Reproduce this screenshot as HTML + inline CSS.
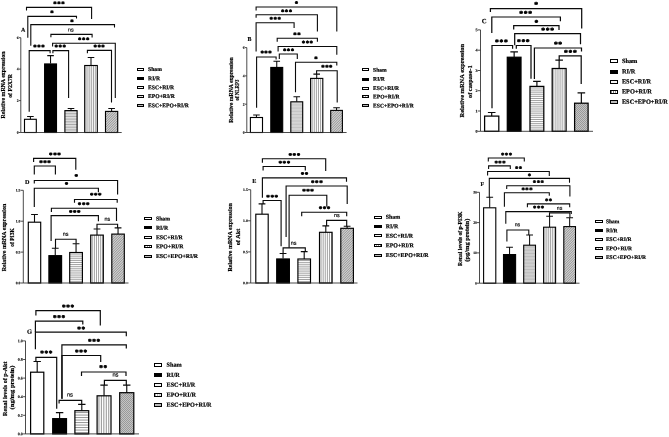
<!DOCTYPE html>
<html lang="en"><head><meta charset="utf-8"><title>Figure</title>
<style>
html,body{margin:0;padding:0;background:#fff;}
body{width:669px;height:437px;overflow:hidden;}
svg{display:block;font-family:"Liberation Serif",serif;font-weight:bold;fill:#000;}
.ax{stroke:#2a2a2a;stroke-width:0.85;fill:none;}
.br{stroke:#0a0a0a;stroke-width:calc(var(--s)*1.1px);fill:none;}
.bar{stroke:#000;stroke-width:calc(var(--s)*1.12px);}
.er{stroke:#0a0a0a;stroke-width:calc(var(--s)*1.05px);fill:none;}
.lb{stroke:#000;stroke-width:1;}
.ph{stroke:#777;stroke-width:0.7;fill:none;}
.pv{stroke:#707070;stroke-width:0.65;fill:none;}
.pd{stroke:#7a7a7a;stroke-width:0.7;fill:none;}
.tk{font-size:calc(var(--s)*3.7px);text-anchor:end;stroke:#000;stroke-width:0.12px;}
.yl{font-size:calc(var(--s)*5.8px);text-anchor:middle;stroke:#000;stroke-width:0.2px;}
.lg{font-size:calc(var(--s)*5.7px);stroke:#000;stroke-width:0.2px;}
.st{font-size:calc(var(--s)*6.8px);text-anchor:middle;letter-spacing:calc(var(--s)*0.55px);stroke:#000;stroke-width:0.45px;}
.ns{font-size:calc(var(--s)*5.3px);text-anchor:middle;font-family:"Liberation Sans",sans-serif;font-weight:normal;fill:#111;stroke:#111;stroke-width:0.2px;}
.pl{font-size:calc(var(--s)*6.0px);text-anchor:middle;stroke:#000;stroke-width:0.15px;}
</style></head>
<body>
<svg width="669" height="437" viewBox="0 0 669 437">
<defs>
<pattern id="ph" width="4" height="2.1" patternUnits="userSpaceOnUse"><rect width="4" height="2.1" fill="#fff"/><rect y="0" width="4" height="0.7" fill="#777"/></pattern>
<pattern id="pv" width="2.1" height="4" patternUnits="userSpaceOnUse"><rect width="2.1" height="4" fill="#fff"/><rect x="0" width="0.65" height="4" fill="#707070"/></pattern>
<pattern id="pd" width="2.5" height="2.5" patternUnits="userSpaceOnUse" patternTransform="rotate(45)"><rect width="2.5" height="2.5" fill="#fff"/><rect x="0" width="0.7" height="2.5" fill="#7a7a7a"/></pattern>
<pattern id="px" width="2" height="2" patternUnits="userSpaceOnUse"><rect width="2" height="2" fill="#c4c4c4"/><rect width="1" height="1" fill="#999"/><rect x="1" y="1" width="1" height="1" fill="#999"/></pattern>
</defs>
<rect width="669" height="437" fill="#fff"/>
<g id="panel-A" style="--s:1">
<path class="er" d="M30.4 119.3V116.4M27.1 116.4H33.7"/><rect class="bar" x="24.5" y="119.3" width="11.8" height="13.2" fill="#fff"/>
<path class="er" d="M50.55 63.6V55.6M47.25 55.6H53.85"/><rect class="bar" x="44.6" y="63.95" width="11.9" height="68.55" fill="#000"/>
<path class="er" d="M71 110.6V108.5M67.7 108.5H74.3"/><rect x="64.9" y="110.6" width="12.2" height="21.9" fill="#fff"/><path class="ph" style="stroke:#707070;stroke-width:0.6" d="M64.9 111.79H77.1M64.9 113.38H77.1M64.9 114.97H77.1M64.9 116.56H77.1M64.9 118.15H77.1M64.9 119.74H77.1M64.9 121.33H77.1M64.9 122.92H77.1M64.9 124.51H77.1M64.9 126.1H77.1M64.9 127.69H77.1M64.9 129.28H77.1M64.9 130.87H77.1"/><rect class="bar" x="64.9" y="110.6" width="12.2" height="21.9" fill="none"/>
<path class="er" d="M91 65.5V57.4M87.7 57.4H94.3"/><rect x="84.7" y="65.5" width="12.6" height="67" fill="#fff"/><path class="pv" style="stroke:#a0a0a0;stroke-width:0.95" d="M86.09 65.5V132.5M87.94 65.5V132.5M89.79 65.5V132.5M91.64 65.5V132.5M93.49 65.5V132.5M95.34 65.5V132.5"/><rect class="bar" x="84.7" y="65.5" width="12.6" height="67" fill="none"/>
<path class="er" d="M111.6 111.4V108.5M108.3 108.5H114.9"/><rect x="105.5" y="111.4" width="12.2" height="21.1" fill="#cfcfcf"/><path class="pd" d="M105.5 112.65L106.75 111.4M105.5 115.15L109.25 111.4M105.5 117.65L111.75 111.4M105.5 120.15L114.25 111.4M105.5 122.65L116.75 111.4M105.5 125.15L117.7 112.95M105.5 127.65L117.7 115.45M105.5 130.15L117.7 117.95M105.65 132.5L117.7 120.45M108.15 132.5L117.7 122.95M110.65 132.5L117.7 125.45M113.15 132.5L117.7 127.95M115.65 132.5L117.7 130.45"/><rect class="bar" x="105.5" y="111.4" width="12.2" height="21.1" fill="none"/>
<path class="ax" d="M20.8 37.7V132.5H121.7"/>
<path class="ax" d="M18.8 132.5H20.8"/><text class="tk" transform="translate(18.55 133.75) rotate(0.04)">0</text>
<path class="ax" d="M18.8 100.6H20.8"/><text class="tk" transform="translate(18.55 101.85) rotate(0.04)">2</text>
<path class="ax" d="M18.8 69.1H20.8"/><text class="tk" transform="translate(18.55 70.35) rotate(0.04)">4</text>
<path class="ax" d="M18.8 37.7H20.8"/><text class="tk" transform="translate(18.55 38.95) rotate(0.04)">6</text>
<path class="br" d="M26.5 10.5V7.4H91.6V18.9"/><text class="st" transform="translate(59.2 6) rotate(0.04)">***</text>
<path class="br" d="M27.8 37.8V16.4H76.5V18.6"/><text class="st" transform="translate(52.2 15) rotate(0.04)">*</text>
<path class="br" d="M30.8 45.8V24.6H114.5V27.5"/><text class="st" transform="translate(72.1 23.9) rotate(0.04)">*</text>
<path class="br" d="M50.9 37.3V34.4H92.1V37.5"/><text class="ns" transform="translate(70.8 31.4) rotate(0.04)">ns</text>
<path class="br" d="M52.6 46.4V43.3H115.3V98"/><text class="st" transform="translate(84 41.9) rotate(0.04)">***</text>
<path class="br" d="M29.2 111.8V50.6H50.1V53.3"/><text class="st" transform="translate(39.2 49.3) rotate(0.04)">***</text>
<path class="br" d="M52.9 53.3V50.6H68.6V98"/><text class="st" transform="translate(60.5 49.3) rotate(0.04)">***</text>
<path class="br" d="M87.4 53.3V50.4H111.5V102.4"/><text class="st" transform="translate(99.4 49.3) rotate(0.04)">***</text>
<text class="pl" transform="translate(23.2 31.8) rotate(0.04)">A</text>
<text class="yl" transform="translate(5.2 85) rotate(-90)" textLength="66.8" lengthAdjust="spacingAndGlyphs">Relative mRNA expression</text>
<text class="yl" transform="translate(12 85.9) rotate(-90)" textLength="23.8" lengthAdjust="spacingAndGlyphs">of P2X7R</text>
<rect class="lb" x="137.5" y="68.5" width="6" height="2" fill="#fff"/><text class="lg" style="font-size:5.63px" transform="translate(148.1 71) rotate(0.04)">Sham</text>
<rect class="lb" x="137.5" y="77.5" width="6" height="2" fill="#000"/><text class="lg" style="font-size:5.63px" transform="translate(148.1 80.2) rotate(0.04)">RI/R</text>
<rect class="lb" x="137.5" y="86.5" width="6" height="2" fill="#f4f4f4"/><text class="lg" style="font-size:5.63px" transform="translate(148.1 89.3) rotate(0.04)">ESC+RI/R</text>
<rect class="lb" x="137.5" y="95.5" width="6" height="2" fill="url(#pv)"/><text class="lg" style="font-size:5.63px" transform="translate(148.1 98) rotate(0.04)">EPO+RI/R</text>
<rect class="lb" x="137.5" y="104.5" width="6" height="2" fill="#bbb"/><text class="lg" style="font-size:5.63px" transform="translate(148.1 107.2) rotate(0.04)">ESC+EPO+RI/R</text>
</g>
<g id="panel-B" style="--s:1">
<path class="er" d="M256.45 117.5V115M253.15 115H259.75"/><rect class="bar" x="250.4" y="117.5" width="12.1" height="15" fill="#fff"/>
<path class="er" d="M276.75 67.1V61.2M273.45 61.2H280.05"/><rect class="bar" x="270.8" y="67.45" width="11.9" height="65.05" fill="#000"/>
<path class="er" d="M296.75 101.8V96.7M293.45 96.7H300.05"/><rect x="290.8" y="101.8" width="11.9" height="30.7" fill="#eaeaea"/><path class="ph" style="stroke:#9a9a9a;stroke-width:0.5" d="M290.8 102.89H302.7M290.8 104.34H302.7M290.8 105.79H302.7M290.8 107.24H302.7M290.8 108.69H302.7M290.8 110.14H302.7M290.8 111.59H302.7M290.8 113.04H302.7M290.8 114.49H302.7M290.8 115.94H302.7M290.8 117.39H302.7M290.8 118.84H302.7M290.8 120.29H302.7M290.8 121.74H302.7M290.8 123.19H302.7M290.8 124.64H302.7M290.8 126.09H302.7M290.8 127.54H302.7M290.8 128.99H302.7M290.8 130.44H302.7M290.8 131.89H302.7"/><rect class="bar" x="290.8" y="101.8" width="11.9" height="30.7" fill="none"/>
<path class="er" d="M316.7 78.4V74.1M313.4 74.1H320"/><rect x="310.6" y="78.4" width="12.2" height="54.1" fill="#fff"/><path class="pv" d="M312.18 78.4V132.5M314.28 78.4V132.5M316.38 78.4V132.5M318.48 78.4V132.5M320.58 78.4V132.5"/><rect class="bar" x="310.6" y="78.4" width="12.2" height="54.1" fill="none"/>
<path class="er" d="M336.55 110.4V107.7M333.25 107.7H339.85"/><rect x="330.7" y="110.4" width="11.7" height="22.1" fill="#cfcfcf"/><path class="pd" d="M330.7 111.65L331.95 110.4M330.7 114.15L334.45 110.4M330.7 116.65L336.95 110.4M330.7 119.15L339.45 110.4M330.7 121.65L341.95 110.4M330.7 124.15L342.4 112.45M330.7 126.65L342.4 114.95M330.7 129.15L342.4 117.45M330.7 131.65L342.4 119.95M332.35 132.5L342.4 122.45M334.85 132.5L342.4 124.95M337.35 132.5L342.4 127.45M339.85 132.5L342.4 129.95M342.35 132.5L342.4 132.45"/><rect class="bar" x="330.7" y="110.4" width="11.7" height="22.1" fill="none"/>
<path class="ax" d="M246.8 47.6V132.5H346.6"/>
<path class="ax" d="M244.8 132.5H246.8"/><text class="tk" transform="translate(244.55 133.75) rotate(0.04)">0</text>
<path class="ax" d="M244.8 104.2H246.8"/><text class="tk" transform="translate(244.55 105.45) rotate(0.04)">2</text>
<path class="ax" d="M244.8 75.9H246.8"/><text class="tk" transform="translate(244.55 77.15) rotate(0.04)">4</text>
<path class="ax" d="M244.8 47.6H246.8"/><text class="tk" transform="translate(244.55 48.85) rotate(0.04)">6</text>
<path class="br" d="M256.1 10.5V7H336.8V31.5"/><text class="st" transform="translate(296.8 5.8) rotate(0.04)">*</text>
<path class="br" d="M256.1 17.8V14.7H317.4V31.5"/><text class="st" transform="translate(286.8 13.9) rotate(0.04)">***</text>
<path class="br" d="M256.1 51.5V22.7H294.1V28"/><text class="st" transform="translate(275.5 21.5) rotate(0.04)">***</text>
<path class="br" d="M277.2 41.8V38.3H317.4V41.8"/><text class="st" transform="translate(297.3 36.9) rotate(0.04)">**</text>
<path class="br" d="M278.1 51.5V46.5H336.8V54.7"/><text class="st" transform="translate(307.6 45.3) rotate(0.04)">***</text>
<path class="br" d="M256.6 107.7V57H276.1V59.5"/><text class="st" transform="translate(266.3 55.3) rotate(0.04)">***</text>
<path class="br" d="M279.3 58.9V54H297.3V58.9"/><text class="st" transform="translate(288.8 52.9) rotate(0.04)">***</text>
<path class="br" d="M295.5 92.3V62.3H336.8V65.4"/><text class="st" transform="translate(316.3 61) rotate(0.04)">*</text>
<path class="br" d="M316.6 74V70.7H337.2V102.4"/><text class="st" transform="translate(327.1 69.6) rotate(0.04)">***</text>
<text class="pl" transform="translate(249.5 41.1) rotate(0.04)">B</text>
<text class="yl" transform="translate(232.6 90) rotate(-90)" textLength="65.6" lengthAdjust="spacingAndGlyphs">Relative mRNA expression</text>
<text class="yl" transform="translate(238.9 90) rotate(-90)" textLength="21" lengthAdjust="spacingAndGlyphs">of NLRP3</text>
<rect class="lb" x="362.5" y="68.5" width="6" height="2" fill="#fff"/><text class="lg" style="font-size:5.6px" transform="translate(373.1 71.7) rotate(0.04)">Sham</text>
<rect class="lb" x="362.5" y="78.5" width="6" height="2" fill="#000"/><text class="lg" style="font-size:5.6px" transform="translate(373.1 80.7) rotate(0.04)">RI/R</text>
<rect class="lb" x="362.5" y="87.5" width="6" height="2" fill="#f4f4f4"/><text class="lg" style="font-size:5.6px" transform="translate(373.1 89.9) rotate(0.04)">ESC+RI/R</text>
<rect class="lb" x="362.5" y="95.5" width="6" height="2" fill="url(#pv)"/><text class="lg" style="font-size:5.6px" transform="translate(373.1 98.6) rotate(0.04)">EPO+RI/R</text>
<rect class="lb" x="362.5" y="104.5" width="6" height="2" fill="#bbb"/><text class="lg" style="font-size:5.6px" transform="translate(373.1 107.5) rotate(0.04)">ESC+EPO+RI/R</text>
</g>
<g id="panel-C" style="--s:1.12">
<path class="er" d="M491.7 116.1V112.5M487.9 112.5H495.5"/><rect class="bar" x="484.6" y="116.1" width="14.2" height="15.2" fill="#fff"/>
<path class="er" d="M514.15 56.9V51.9M510.35 51.9H517.95"/><rect class="bar" x="507.3" y="57.25" width="13.7" height="74.05" fill="#000"/>
<path class="er" d="M536.9 86.4V81.3M533.1 81.3H540.7"/><rect x="530" y="86.4" width="13.8" height="44.9" fill="#fff"/><path class="ph" d="M530 87.98H543.8M530 90.08H543.8M530 92.17H543.8M530 94.27H543.8M530 96.37H543.8M530 98.47H543.8M530 100.57H543.8M530 102.67H543.8M530 104.77H543.8M530 106.87H543.8M530 108.97H543.8M530 111.07H543.8M530 113.17H543.8M530 115.27H543.8M530 117.37H543.8M530 119.47H543.8M530 121.57H543.8M530 123.67H543.8M530 125.77H543.8M530 127.87H543.8M530 129.97H543.8"/><rect class="bar" x="530" y="86.4" width="13.8" height="44.9" fill="none"/>
<path class="er" d="M559.15 68.5V60.2M555.35 60.2H562.95"/><rect x="552.2" y="68.5" width="13.9" height="62.8" fill="#fff"/><path class="pv" d="M553.78 68.5V131.3M555.88 68.5V131.3M557.98 68.5V131.3M560.08 68.5V131.3M562.18 68.5V131.3M564.28 68.5V131.3"/><rect class="bar" x="552.2" y="68.5" width="13.9" height="62.8" fill="none"/>
<path class="er" d="M581.35 103.2V92.9M577.55 92.9H585.15"/><rect class="bar" x="574.6" y="103.2" width="13.5" height="28.1" fill="url(#px)"/>
<path class="ax" d="M480.5 29.9V131.3H593"/>
<path class="ax" d="M477.7 131.3H480.5"/><text class="tk" transform="translate(477.45 132.7) rotate(0.04)">0</text>
<path class="ax" d="M477.7 111H480.5"/><text class="tk" transform="translate(477.45 112.4) rotate(0.04)">1</text>
<path class="ax" d="M477.7 90.7H480.5"/><text class="tk" transform="translate(477.45 92.1) rotate(0.04)">2</text>
<path class="ax" d="M477.7 70.5H480.5"/><text class="tk" transform="translate(477.45 71.9) rotate(0.04)">3</text>
<path class="ax" d="M477.7 50.2H480.5"/><text class="tk" transform="translate(477.45 51.6) rotate(0.04)">4</text>
<path class="ax" d="M477.7 29.9H480.5"/><text class="tk" transform="translate(477.45 31.3) rotate(0.04)">5</text>
<path class="br" d="M490.4 12.1V8.6H581.7V28.5"/><text class="st" transform="translate(536.34 6.92) rotate(0.04)">*</text>
<path class="br" d="M491.8 32.9V17H560.4V21.3"/><text class="st" transform="translate(525.94 16.02) rotate(0.04)">***</text>
<path class="br" d="M513.7 29.5V25.7H559V29.9"/><text class="st" transform="translate(536.74 24.92) rotate(0.04)">*</text>
<path class="br" d="M514.7 45.3V33.6H580.5V44.2"/><text class="st" transform="translate(547.94 32.72) rotate(0.04)">***</text>
<path class="br" d="M492 108.2V45.5H512.6V48.7"/><text class="st" transform="translate(501.74 44.42) rotate(0.04)">***</text>
<path class="br" d="M516.3 48.7V45.5H531V78.8"/><text class="st" transform="translate(523.64 44.22) rotate(0.04)">***</text>
<path class="br" d="M534.4 78.9V48H581.5V51.5"/><text class="st" transform="translate(558.34 46.82) rotate(0.04)">**</text>
<path class="br" d="M559.2 60.2V55.8H581.2V84.1"/><text class="st" transform="translate(570.74 55.12) rotate(0.04)">***</text>
<text class="pl" transform="translate(484.1 23.36) rotate(0.04)">C</text>
<text class="yl" transform="translate(464 80.75) rotate(-90)" textLength="73.5" lengthAdjust="spacingAndGlyphs">Relative mRNA expression</text>
<text class="yl" transform="translate(472 81.7) rotate(-90)" textLength="32.6" lengthAdjust="spacingAndGlyphs">of caspase-1</text>
<rect class="lb" x="610.5" y="59.5" width="7" height="3" fill="#fff"/><text class="lg" style="font-size:6.34px" transform="translate(621.9 63.1) rotate(0.04)">Sham</text>
<rect class="lb" x="610.5" y="70.5" width="7" height="3" fill="#000"/><text class="lg" style="font-size:6.34px" transform="translate(621.9 73.4) rotate(0.04)">RI/R</text>
<rect class="lb" x="610.5" y="80.5" width="7" height="3" fill="#f4f4f4"/><text class="lg" style="font-size:6.34px" transform="translate(621.9 83.5) rotate(0.04)">ESC+RI/R</text>
<rect class="lb" x="610.5" y="90.5" width="7" height="3" fill="url(#pv)"/><text class="lg" style="font-size:6.34px" transform="translate(621.9 93.5) rotate(0.04)">EPO+RI/R</text>
<rect class="lb" x="610.5" y="100.5" width="7" height="3" fill="#bbb"/><text class="lg" style="font-size:6.34px" transform="translate(621.9 103.8) rotate(0.04)">ESC+EPO+RI/R</text>
</g>
<g id="panel-D" style="--s:1.03">
<path class="er" d="M34.5 222.2V214.5M31.1 214.5H37.9"/><rect class="bar" x="28.3" y="222.2" width="12.4" height="60.8" fill="#fff"/>
<path class="er" d="M55.25 255.3V248.3M51.85 248.3H58.65"/><rect class="bar" x="48.9" y="255.65" width="12.7" height="27.35" fill="#000"/>
<path class="er" d="M76.05 252.5V243.7M72.65 243.7H79.45"/><rect x="69.7" y="252.5" width="12.7" height="30.5" fill="#fff"/><path class="ph" d="M69.7 254.07H82.4M69.7 256.18H82.4M69.7 258.28H82.4M69.7 260.38H82.4M69.7 262.48H82.4M69.7 264.58H82.4M69.7 266.68H82.4M69.7 268.78H82.4M69.7 270.88H82.4M69.7 272.98H82.4M69.7 275.08H82.4M69.7 277.18H82.4M69.7 279.28H82.4M69.7 281.38H82.4"/><rect class="bar" x="69.7" y="252.5" width="12.7" height="30.5" fill="none"/>
<path class="er" d="M97 235.1V229M93.6 229H100.4"/><rect x="90.7" y="235.1" width="12.6" height="47.9" fill="#fff"/><path class="pv" d="M92.28 235.1V283M94.38 235.1V283M96.47 235.1V283M98.57 235.1V283M100.67 235.1V283M102.77 235.1V283"/><rect class="bar" x="90.7" y="235.1" width="12.6" height="47.9" fill="none"/>
<path class="er" d="M118.05 234.1V227.9M114.65 227.9H121.45"/><rect x="111.8" y="234.1" width="12.5" height="48.9" fill="#cfcfcf"/><path class="pd" d="M111.8 235.35L113.05 234.1M111.8 237.85L115.55 234.1M111.8 240.35L118.05 234.1M111.8 242.85L120.55 234.1M111.8 245.35L123.05 234.1M111.8 247.85L124.3 235.35M111.8 250.35L124.3 237.85M111.8 252.85L124.3 240.35M111.8 255.35L124.3 242.85M111.8 257.85L124.3 245.35M111.8 260.35L124.3 247.85M111.8 262.85L124.3 250.35M111.8 265.35L124.3 252.85M111.8 267.85L124.3 255.35M111.8 270.35L124.3 257.85M111.8 272.85L124.3 260.35M111.8 275.35L124.3 262.85M111.8 277.85L124.3 265.35M111.8 280.35L124.3 267.85M111.8 282.85L124.3 270.35M114.15 283L124.3 272.85M116.65 283L124.3 275.35M119.15 283L124.3 277.85M121.65 283L124.3 280.35M124.15 283L124.3 282.85"/><rect class="bar" x="111.8" y="234.1" width="12.5" height="48.9" fill="none"/>
<path class="ax" d="M23.3 190.3V283H128.5"/>
<path class="ax" d="M20.7 283H23.3"/><text class="tk" transform="translate(20.45 284.29) rotate(0.04)">0.0</text>
<path class="ax" d="M20.7 252.1H23.3"/><text class="tk" transform="translate(20.45 253.39) rotate(0.04)">0.5</text>
<path class="ax" d="M20.7 221.2H23.3"/><text class="tk" transform="translate(20.45 222.49) rotate(0.04)">1.0</text>
<path class="ax" d="M20.7 190.3H23.3"/><text class="tk" transform="translate(20.45 191.59) rotate(0.04)">1.5</text>
<path class="br" d="M33.6 162.1V158.4H75.8V169.8"/><text class="st" transform="translate(55.21 157.2) rotate(0.04)">***</text>
<path class="br" d="M34.3 174.5V166H55.4V174.5"/><text class="st" transform="translate(45.31 165.1) rotate(0.04)">***</text>
<path class="br" d="M34.3 183.4V180.5H117.6V194.4"/><text class="st" transform="translate(76.41 178.8) rotate(0.04)">*</text>
<path class="br" d="M34.3 207.1V188.2H98.4V192.3"/><text class="st" transform="translate(66.81 186.7) rotate(0.04)">*</text>
<path class="br" d="M74.5 202.8V199.5H117.2V202.8"/><text class="st" transform="translate(96.01 197.6) rotate(0.04)">***</text>
<path class="br" d="M51.4 212.1V208.2H116.5V221.1"/><text class="st" transform="translate(83.91 206.91) rotate(0.04)">***</text>
<path class="br" d="M51.1 241V215.6H98.4V221.3"/><text class="st" transform="translate(75.01 214.8) rotate(0.04)">***</text>
<path class="br" d="M55.5 248V239.2H76.1V243.7"/><text class="ns" transform="translate(65.7 235.64) rotate(0.04)">ns</text>
<path class="br" d="M97 228.9V224.2H117.6V227.9"/><text class="ns" transform="translate(107.3 220.84) rotate(0.04)">ns</text>
<text class="pl" transform="translate(27.2 184.07) rotate(0.04)">D</text>
<text class="yl" transform="translate(6.4 237.5) rotate(-90)" textLength="67.5" lengthAdjust="spacingAndGlyphs">Relative mRNA expression</text>
<text class="yl" transform="translate(13.6 237.5) rotate(-90)" textLength="18.4" lengthAdjust="spacingAndGlyphs">of PI3K</text>
<rect class="lb" x="144.5" y="217.5" width="7" height="2" fill="#fff"/><text class="lg" style="font-size:5.82px" transform="translate(155.9 220.45) rotate(0.04)">Sham</text>
<rect class="lb" x="144.5" y="226.5" width="7" height="2" fill="#000"/><text class="lg" style="font-size:5.82px" transform="translate(155.9 229.65) rotate(0.04)">RI/R</text>
<rect class="lb" x="144.5" y="236.5" width="7" height="2" fill="#f4f4f4"/><text class="lg" style="font-size:5.82px" transform="translate(155.9 239.25) rotate(0.04)">ESC+RI/R</text>
<rect class="lb" x="144.5" y="245.5" width="7" height="2" fill="url(#pv)"/><text class="lg" style="font-size:5.82px" transform="translate(155.9 248.35) rotate(0.04)">EPO+RI/R</text>
<rect class="lb" x="144.5" y="255.5" width="7" height="2" fill="#bbb"/><text class="lg" style="font-size:5.82px" transform="translate(155.9 257.95) rotate(0.04)">ESC+EPO+RI/R</text>
</g>
<g id="panel-E" style="--s:1.03">
<path class="er" d="M262 214.2V203.9M258.6 203.9H265.4"/><rect class="bar" x="255.8" y="214.2" width="12.4" height="68.8" fill="#fff"/>
<path class="er" d="M283.05 258.6V253.5M279.65 253.5H286.45"/><rect class="bar" x="276.7" y="258.95" width="12.7" height="24.05" fill="#000"/>
<path class="er" d="M304.2 259V251.6M300.8 251.6H307.6"/><rect x="297.9" y="259" width="12.6" height="24" fill="#fff"/><path class="ph" d="M297.9 260.57H310.5M297.9 262.68H310.5M297.9 264.78H310.5M297.9 266.88H310.5M297.9 268.98H310.5M297.9 271.08H310.5M297.9 273.18H310.5M297.9 275.28H310.5M297.9 277.38H310.5M297.9 279.48H310.5M297.9 281.58H310.5"/><rect class="bar" x="297.9" y="259" width="12.6" height="24" fill="none"/>
<path class="er" d="M325.8 232.3V225.9M322.4 225.9H329.2"/><rect x="319.5" y="232.3" width="12.6" height="50.7" fill="#fff"/><path class="pv" d="M321.07 232.3V283M323.18 232.3V283M325.28 232.3V283M327.38 232.3V283M329.48 232.3V283M331.58 232.3V283"/><rect class="bar" x="319.5" y="232.3" width="12.6" height="50.7" fill="none"/>
<path class="er" d="M347.1 228.3V226.3M343.7 226.3H350.5"/><rect x="340.8" y="228.3" width="12.6" height="54.7" fill="#cfcfcf"/><path class="pd" d="M340.8 229.55L342.05 228.3M340.8 232.05L344.55 228.3M340.8 234.55L347.05 228.3M340.8 237.05L349.55 228.3M340.8 239.55L352.05 228.3M340.8 242.05L353.4 229.45M340.8 244.55L353.4 231.95M340.8 247.05L353.4 234.45M340.8 249.55L353.4 236.95M340.8 252.05L353.4 239.45M340.8 254.55L353.4 241.95M340.8 257.05L353.4 244.45M340.8 259.55L353.4 246.95M340.8 262.05L353.4 249.45M340.8 264.55L353.4 251.95M340.8 267.05L353.4 254.45M340.8 269.55L353.4 256.95M340.8 272.05L353.4 259.45M340.8 274.55L353.4 261.95M340.8 277.05L353.4 264.45M340.8 279.55L353.4 266.95M340.8 282.05L353.4 269.45M342.35 283L353.4 271.95M344.85 283L353.4 274.45M347.35 283L353.4 276.95M349.85 283L353.4 279.45M352.35 283L353.4 281.95"/><rect class="bar" x="340.8" y="228.3" width="12.6" height="54.7" fill="none"/>
<path class="ax" d="M250.7 189.7V283H357.5"/>
<path class="ax" d="M248.1 283H250.7"/><text class="tk" transform="translate(247.85 284.29) rotate(0.04)">0.0</text>
<path class="ax" d="M248.1 251.9H250.7"/><text class="tk" transform="translate(247.85 253.19) rotate(0.04)">0.5</text>
<path class="ax" d="M248.1 220.8H250.7"/><text class="tk" transform="translate(247.85 222.09) rotate(0.04)">1.0</text>
<path class="ax" d="M248.1 189.7H250.7"/><text class="tk" transform="translate(247.85 190.99) rotate(0.04)">1.5</text>
<path class="br" d="M262.4 162.8V158.7H325.7V171.1"/><text class="st" transform="translate(294.61 157.8) rotate(0.04)">***</text>
<path class="br" d="M263.1 170.4V166.5H305.3V170.4"/><text class="st" transform="translate(284.61 165.5) rotate(0.04)">***</text>
<path class="br" d="M262.4 197.8V177.9H346.5V181.8"/><text class="st" transform="translate(304.81 176.7) rotate(0.04)">**</text>
<path class="br" d="M286.1 237V186H347.2V203.9"/><text class="st" transform="translate(317.11 185) rotate(0.04)">***</text>
<path class="br" d="M289.1 247.8V195.3H326.8V206.7"/><text class="st" transform="translate(308.31 193.5) rotate(0.04)">***</text>
<path class="br" d="M263.1 203.9V200.5H281.1V246.2"/><text class="st" transform="translate(272.41 199.6) rotate(0.04)">***</text>
<path class="br" d="M301.7 216.3V212.2H346.7V216.3"/><text class="st" transform="translate(324.81 210.91) rotate(0.04)">***</text>
<path class="br" d="M283.1 253.5V247.9H305.3V251.6"/><text class="ns" transform="translate(293.5 244.74) rotate(0.04)">ns</text>
<path class="br" d="M326.6 225.9V220.4H346.7V226.3"/><text class="ns" transform="translate(336.9 217.04) rotate(0.04)">ns</text>
<text class="pl" transform="translate(254.2 182.97) rotate(0.04)">E</text>
<text class="yl" transform="translate(232 237.3) rotate(-90)" textLength="68.5" lengthAdjust="spacingAndGlyphs">Relative mRNA expression</text>
<text class="yl" transform="translate(239.6 237) rotate(-90)" textLength="16.7" lengthAdjust="spacingAndGlyphs">of Akt</text>
<rect class="lb" x="374.5" y="216.5" width="7" height="2" fill="#fff"/><text class="lg" style="font-size:5.9px" transform="translate(385.8 218.85) rotate(0.04)">Sham</text>
<rect class="lb" x="374.5" y="225.5" width="7" height="2" fill="#000"/><text class="lg" style="font-size:5.9px" transform="translate(385.8 228.25) rotate(0.04)">RI/R</text>
<rect class="lb" x="374.5" y="234.5" width="7" height="2" fill="#f4f4f4"/><text class="lg" style="font-size:5.9px" transform="translate(385.8 237.65) rotate(0.04)">ESC+RI/R</text>
<rect class="lb" x="374.5" y="244.5" width="7" height="2" fill="url(#pv)"/><text class="lg" style="font-size:5.9px" transform="translate(385.8 247.25) rotate(0.04)">EPO+RI/R</text>
<rect class="lb" x="374.5" y="254.5" width="7" height="2" fill="#bbb"/><text class="lg" style="font-size:5.9px" transform="translate(385.8 257.05) rotate(0.04)">ESC+EPO+RI/R</text>
</g>
<g id="panel-F" style="--s:0.98">
<path class="er" d="M489.7 207.8V197.2M486.3 197.2H493.1"/><rect class="bar" x="483.6" y="207.8" width="12.2" height="75.4" fill="#fff"/>
<path class="er" d="M509.55 254.2V247.3M506.15 247.3H512.95"/><rect class="bar" x="503.5" y="254.55" width="12.1" height="28.65" fill="#000"/>
<path class="er" d="M529.6 245.2V235M526.2 235H533"/><rect x="523.7" y="245.2" width="11.8" height="38" fill="#e6e6e6"/><path class="ph" style="stroke:#909090;stroke-width:0.5" d="M523.7 246.29H535.5M523.7 247.74H535.5M523.7 249.19H535.5M523.7 250.64H535.5M523.7 252.09H535.5M523.7 253.54H535.5M523.7 254.99H535.5M523.7 256.44H535.5M523.7 257.89H535.5M523.7 259.34H535.5M523.7 260.79H535.5M523.7 262.24H535.5M523.7 263.69H535.5M523.7 265.14H535.5M523.7 266.59H535.5M523.7 268.04H535.5M523.7 269.49H535.5M523.7 270.94H535.5M523.7 272.39H535.5M523.7 273.84H535.5M523.7 275.29H535.5M523.7 276.74H535.5M523.7 278.19H535.5M523.7 279.64H535.5M523.7 281.09H535.5M523.7 282.54H535.5"/><rect class="bar" x="523.7" y="245.2" width="11.8" height="38" fill="none"/>
<path class="er" d="M549.6 227.2V216.3M546.2 216.3H553"/><rect x="543.6" y="227.2" width="12" height="56" fill="#fff"/><path class="pv" style="stroke:#a0a0a0;stroke-width:0.95" d="M544.99 227.2V283.2M546.84 227.2V283.2M548.69 227.2V283.2M550.54 227.2V283.2M552.39 227.2V283.2M554.24 227.2V283.2"/><rect class="bar" x="543.6" y="227.2" width="12" height="56" fill="none"/>
<path class="er" d="M569.65 226.6V217.8M566.25 217.8H573.05"/><rect x="563.8" y="226.6" width="11.7" height="56.6" fill="#cfcfcf"/><path class="pd" d="M563.8 227.85L565.05 226.6M563.8 230.35L567.55 226.6M563.8 232.85L570.05 226.6M563.8 235.35L572.55 226.6M563.8 237.85L575.05 226.6M563.8 240.35L575.5 228.65M563.8 242.85L575.5 231.15M563.8 245.35L575.5 233.65M563.8 247.85L575.5 236.15M563.8 250.35L575.5 238.65M563.8 252.85L575.5 241.15M563.8 255.35L575.5 243.65M563.8 257.85L575.5 246.15M563.8 260.35L575.5 248.65M563.8 262.85L575.5 251.15M563.8 265.35L575.5 253.65M563.8 267.85L575.5 256.15M563.8 270.35L575.5 258.65M563.8 272.85L575.5 261.15M563.8 275.35L575.5 263.65M563.8 277.85L575.5 266.15M563.8 280.35L575.5 268.65M563.8 282.85L575.5 271.15M565.95 283.2L575.5 273.65M568.45 283.2L575.5 276.15M570.95 283.2L575.5 278.65M573.45 283.2L575.5 281.15"/><rect class="bar" x="563.8" y="226.6" width="11.7" height="56.6" fill="none"/>
<path class="ax" d="M479.5 192.3V283.2H579.5"/>
<path class="ax" d="M477 283.2H479.5"/><text class="tk" transform="translate(476.75 284.43) rotate(0.04)">0</text>
<path class="ax" d="M477 252.9H479.5"/><text class="tk" transform="translate(476.75 254.12) rotate(0.04)">10</text>
<path class="ax" d="M477 222.6H479.5"/><text class="tk" transform="translate(476.75 223.82) rotate(0.04)">20</text>
<path class="ax" d="M477 192.3H479.5"/><text class="tk" transform="translate(476.75 193.53) rotate(0.04)">30</text>
<path class="br" d="M488.3 161.5V158H524.3V161.5"/><text class="st" transform="translate(506.69 157.33) rotate(0.04)">***</text>
<path class="br" d="M488.6 169V165.9H510.3V169"/><text class="st" transform="translate(500.29 165.13) rotate(0.04)">***</text>
<path class="br" d="M487.6 175.5V171.5H549.3V175.9"/><text class="st" transform="translate(518.79 170.63) rotate(0.04)">**</text>
<path class="br" d="M489.3 197.2V178.4H569.5V182.7"/><text class="st" transform="translate(529.69 177.93) rotate(0.04)">*</text>
<path class="br" d="M506.7 188.9V185.8H569.9V196.4"/><text class="st" transform="translate(538.59 184.83) rotate(0.04)">***</text>
<path class="br" d="M504.4 206.7V192.7H549.3V195.8"/><text class="st" transform="translate(527.19 191.93) rotate(0.04)">***</text>
<path class="br" d="M527.4 207.2V203.9H569.7V207.3"/><text class="st" transform="translate(548.79 203.03) rotate(0.04)">**</text>
<path class="br" d="M505.8 223.8V211.6H571.3V213.9"/><text class="st" transform="translate(538.89 210.13) rotate(0.04)">***</text>
<path class="br" d="M506.9 241.4V230H528.8V235"/><text class="ns" transform="translate(517.4 226.27) rotate(0.04)">ns</text>
<path class="br" d="M549.5 216.3V212.9H569.9V217.8"/><text class="ns" transform="translate(559.6 209.77) rotate(0.04)">ns</text>
<text class="pl" transform="translate(482.4 185.96) rotate(0.04)">F</text>
<text class="yl" transform="translate(462.4 238.7) rotate(-90)" textLength="54.4" lengthAdjust="spacingAndGlyphs">Renal levels of p-PI3K</text>
<text class="yl" transform="translate(469.2 240.2) rotate(-90)" textLength="43.1" lengthAdjust="spacingAndGlyphs">(pg/mg protein)</text>
<rect class="lb" x="595.5" y="220.5" width="7" height="2" fill="#fff"/><text class="lg" style="font-size:5.53px" transform="translate(605.9 223.17) rotate(0.04)">Sham</text>
<rect class="lb" x="595.5" y="229.5" width="7" height="2" fill="#000"/><text class="lg" style="font-size:5.53px" transform="translate(605.9 232.37) rotate(0.04)">RI/R</text>
<rect class="lb" x="595.5" y="238.5" width="7" height="2" fill="#f4f4f4"/><text class="lg" style="font-size:5.53px" transform="translate(605.9 240.97) rotate(0.04)">ESC+RI/R</text>
<rect class="lb" x="595.5" y="247.5" width="7" height="2" fill="url(#pv)"/><text class="lg" style="font-size:5.53px" transform="translate(605.9 250.17) rotate(0.04)">EPO+RI/R</text>
<rect class="lb" x="595.5" y="256.5" width="7" height="2" fill="#bbb"/><text class="lg" style="font-size:5.53px" transform="translate(605.9 259.07) rotate(0.04)">ESC+EPO+RI/R</text>
</g>
<g id="panel-G" style="--s:1.08">
<path class="er" d="M37.2 372.2V361.5M33.5 361.5H40.9"/><rect class="bar" x="30.6" y="372.2" width="13.2" height="61.7" fill="#fff"/>
<path class="er" d="M59.6 418.3V412.6M55.9 412.6H63.3"/><rect class="bar" x="52.7" y="418.65" width="13.8" height="15.25" fill="#000"/>
<path class="er" d="M81.8 410.7V404.4M78.1 404.4H85.5"/><rect x="74.9" y="410.7" width="13.8" height="23.2" fill="#fff"/><path class="ph" style="stroke:#777;stroke-width:0.8" d="M74.9 412.57H88.7M74.9 415.07H88.7M74.9 417.57H88.7M74.9 420.07H88.7M74.9 422.57H88.7M74.9 425.07H88.7M74.9 427.57H88.7M74.9 430.07H88.7M74.9 432.57H88.7"/><rect class="bar" x="74.9" y="410.7" width="13.8" height="23.2" fill="none"/>
<path class="er" d="M104.05 395.8V385.1M100.35 385.1H107.75"/><rect x="97.1" y="395.8" width="13.9" height="38.1" fill="#fff"/><path class="pv" style="stroke:#777;stroke-width:0.8" d="M98.94 395.8V433.9M101.39 395.8V433.9M103.84 395.8V433.9M106.29 395.8V433.9M108.74 395.8V433.9"/><rect class="bar" x="97.1" y="395.8" width="13.9" height="38.1" fill="none"/>
<path class="er" d="M126.75 392.7V385.1M123.05 385.1H130.45"/><rect class="bar" x="119.7" y="392.7" width="14.1" height="41.2" fill="url(#px)"/>
<path class="ax" d="M25.5 340.9V433.9H139"/>
<path class="ax" d="M23.1 433.9H25.5"/><text class="tk" transform="translate(22.85 435.25) rotate(0.04)">0.0</text>
<path class="ax" d="M23.1 415.3H25.5"/><text class="tk" transform="translate(22.85 416.65) rotate(0.04)">0.2</text>
<path class="ax" d="M23.1 396.7H25.5"/><text class="tk" transform="translate(22.85 398.05) rotate(0.04)">0.4</text>
<path class="ax" d="M23.1 378.1H25.5"/><text class="tk" transform="translate(22.85 379.45) rotate(0.04)">0.6</text>
<path class="ax" d="M23.1 359.5H25.5"/><text class="tk" transform="translate(22.85 360.85) rotate(0.04)">0.8</text>
<path class="ax" d="M23.1 340.9H25.5"/><text class="tk" transform="translate(22.85 342.25) rotate(0.04)">1.0</text>
<path class="br" d="M35.9 315.6V310.6H100.3V325.5"/><text class="st" transform="translate(68.42 309.48) rotate(0.04)">***</text>
<path class="br" d="M35.4 332V321.2H82.8V324.5"/><text class="st" transform="translate(59.32 320.08) rotate(0.04)">***</text>
<path class="br" d="M35.4 349.2V332.2H126.3V336.2"/><text class="st" transform="translate(81.42 331.38) rotate(0.04)">**</text>
<path class="br" d="M61.9 398.5V344.9H126.3V348.5"/><text class="st" transform="translate(94.42 343.68) rotate(0.04)">***</text>
<path class="br" d="M62 399V355.5H100.7V362.1"/><text class="st" transform="translate(81.42 354.58) rotate(0.04)">***</text>
<path class="br" d="M35.9 361.5V357.3H56.7V408.7"/><text class="st" transform="translate(46.72 355.58) rotate(0.04)">***</text>
<path class="br" d="M81.5 375.9V372H126V375.9"/><text class="st" transform="translate(103.62 370.08) rotate(0.04)">**</text>
<path class="br" d="M59.1 403.5V400.3H81.7V404.4"/><text class="ns" transform="translate(69.9 396.51) rotate(0.04)">ns</text>
<path class="br" d="M104.4 385.1V380.4H126.3V385.1"/><text class="ns" transform="translate(115.4 376.41) rotate(0.04)">ns</text>
<text class="pl" transform="translate(29.5 333.78) rotate(0.04)">G</text>
<text class="yl" transform="translate(6.8 388.7) rotate(-90)" textLength="54.4" lengthAdjust="spacingAndGlyphs">Renal levels of p-Akt</text>
<text class="yl" transform="translate(14.2 387.5) rotate(-90)" textLength="43.8" lengthAdjust="spacingAndGlyphs">(ng/mg protein)</text>
<rect class="lb" x="154.5" y="363.5" width="7" height="3" fill="#fff"/><text class="lg" style="font-size:6.22px" transform="translate(166.5 366.64) rotate(0.04)">Sham</text>
<rect class="lb" x="154.5" y="373.5" width="7" height="3" fill="#000"/><text class="lg" style="font-size:6.22px" transform="translate(166.5 376.94) rotate(0.04)">RI/R</text>
<rect class="lb" x="154.5" y="383.5" width="7" height="3" fill="#f4f4f4"/><text class="lg" style="font-size:6.22px" transform="translate(166.5 386.84) rotate(0.04)">ESC+RI/R</text>
<rect class="lb" x="154.5" y="393.5" width="7" height="3" fill="url(#pv)"/><text class="lg" style="font-size:6.22px" transform="translate(166.5 396.74) rotate(0.04)">EPO+RI/R</text>
<rect class="lb" x="154.5" y="403.5" width="7" height="3" fill="#bbb"/><text class="lg" style="font-size:6.22px" transform="translate(166.5 406.74) rotate(0.04)">ESC+EPO+RI/R</text>
</g>
</svg>
</body></html>
